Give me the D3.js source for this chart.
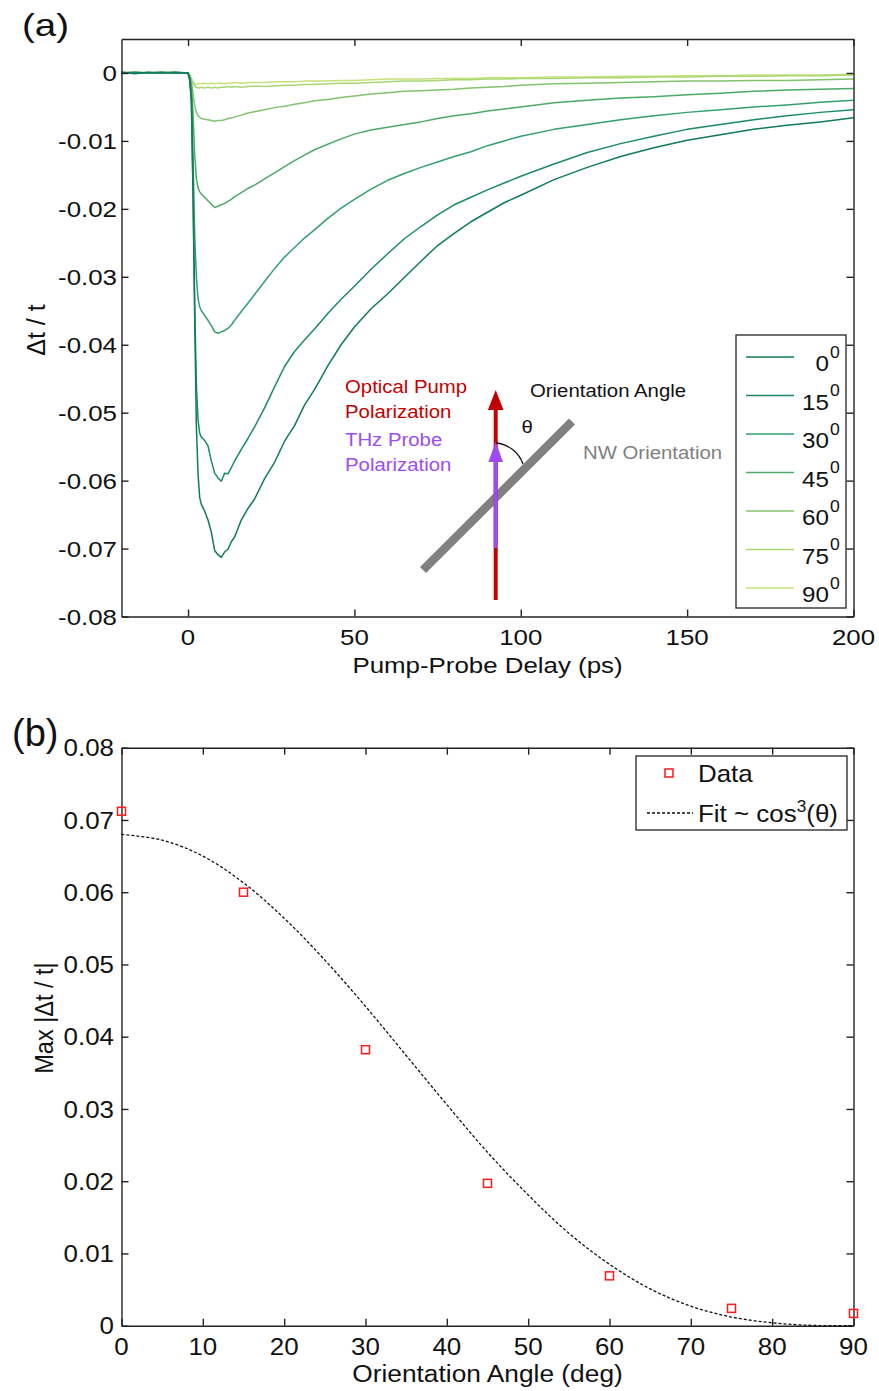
<!DOCTYPE html>
<html>
<head>
<meta charset="utf-8">
<script src="https://cdn.jsdelivr.net/npm/d3@7"></script>
<style>
  html, body { margin: 0; padding: 0; background: #fff; }
  svg { display: block; font-family: "Liberation Sans", Arial, sans-serif; }
</style>
</head>
<body>
<svg id="fig" width="879" height="1391"></svg>
<script>
// ---------- Panel (a): THz transients vs pump-probe delay ----------
const delays = [-20, -16, -12, -8, -4, 0,
  0.5, 1, 1.5, 2, 2.5, 3, 3.5, 4,
  5, 6, 7, 8, 9, 10, 11, 12, 13, 14,
  16, 18, 20, 23, 26, 29, 32, 35, 38, 42, 46, 50,
  55, 60, 65, 70, 75, 80, 85, 90, 95, 100,
  110, 120, 130, 140, 150, 160, 170, 180, 190, 200];

const angleLabels = ["0", "15", "30", "45", "60", "75", "90"];
const seriesColors = ["#0e7b5f", "#1a8a6a", "#339e6f", "#4caa66", "#82c36e", "#aad676", "#c6e07a"];

const dt0 = [0.0001, -0.0001, 0.0001, 0, 0.0001, 0,
  -0.001, -0.004, -0.018, -0.036, -0.052, -0.059, -0.0625, -0.0635,
  -0.0645, -0.0658, -0.0676, -0.0703, -0.0709, -0.0713, -0.0705, -0.0701, -0.0690, -0.0683,
  -0.0658, -0.0641, -0.0627, -0.0597, -0.0573, -0.0542, -0.0519, -0.0489, -0.0466, -0.0431, -0.0400, -0.0374,
  -0.0347, -0.0325, -0.0301, -0.0277, -0.0254, -0.0236, -0.0219, -0.0205, -0.0191, -0.0180,
  -0.0157, -0.0139, -0.0123, -0.0110, -0.0099, -0.0091, -0.0083, -0.0077, -0.0072, -0.0066];

const dt15 = [0, 0.0001, 0, 0.0001, 0, 0,
  -0.001, -0.004, -0.017, -0.034, -0.046, -0.051, -0.053, -0.0536,
  -0.0541, -0.0549, -0.0571, -0.0589, -0.0596, -0.0601, -0.0589, -0.0590, -0.0581, -0.0571,
  -0.0554, -0.0538, -0.0521, -0.0493, -0.0462, -0.0432, -0.0410, -0.0393, -0.0377, -0.0354, -0.0333, -0.0314,
  -0.0289, -0.0266, -0.0244, -0.0226, -0.0209, -0.0194, -0.0183, -0.0172, -0.0162, -0.0152,
  -0.0134, -0.0117, -0.0104, -0.0093, -0.0083, -0.0076, -0.0069, -0.0063, -0.0058, -0.0054];

const dt30 = [0.0001, 0, 0, 0.0001, 0, 0,
  -0.0008, -0.003, -0.012, -0.024, -0.030, -0.0332, -0.0344, -0.0350,
  -0.0357, -0.0364, -0.0372, -0.0381, -0.0383, -0.0381, -0.0379, -0.0376, -0.0371, -0.0364,
  -0.0351, -0.0339, -0.0326, -0.0307, -0.0288, -0.0271, -0.0257, -0.0243, -0.0231, -0.0214, -0.0199, -0.0186,
  -0.0171, -0.0158, -0.0148, -0.0139, -0.0131, -0.0123, -0.0116, -0.0107, -0.0100, -0.0093,
  -0.0083, -0.0076, -0.0069, -0.0063, -0.0058, -0.0054, -0.0050, -0.0047, -0.0043, -0.0040];

const dt45 = [0, 0.0001, 0, 0, 0.0001, 0,
  -0.0005, -0.002, -0.006, -0.012, -0.0155, -0.0169, -0.0175, -0.0178,
  -0.0183, -0.0188, -0.0193, -0.0198, -0.0196, -0.0194, -0.0192, -0.0189, -0.0186, -0.0182,
  -0.0176, -0.0170, -0.0165, -0.0156, -0.0147, -0.0138, -0.0129, -0.0121, -0.0113, -0.0105, -0.0097, -0.0090,
  -0.0084, -0.0080, -0.0076, -0.0072, -0.0067, -0.0063, -0.0060, -0.0056, -0.0053, -0.0050,
  -0.0044, -0.0040, -0.0037, -0.0035, -0.0032, -0.0030, -0.0027, -0.0025, -0.0024, -0.0023];

const dt60 = [0, 0, 0.0001, 0, 0, 0,
  -0.0004, -0.0012, -0.003, -0.0048, -0.0058, -0.0063, -0.0065, -0.0067,
  -0.0068, -0.0069, -0.0070, -0.0071, -0.0070, -0.0070, -0.0069, -0.0067, -0.0066, -0.0065,
  -0.0062, -0.0059, -0.0057, -0.0054, -0.0051, -0.0049, -0.0046, -0.0044, -0.0041, -0.0039, -0.0036, -0.0034,
  -0.0031, -0.0029, -0.0027, -0.0026, -0.0025, -0.0024, -0.0022, -0.0021, -0.0020, -0.0018,
  -0.0016, -0.0015, -0.0014, -0.0013, -0.0012, -0.0012, -0.0011, -0.0011, -0.0010, -0.0009];

const dt75 = [0.0001, 0, 0, 0.0001, 0, 0,
  -0.0003, -0.0009, -0.0015, -0.0019, -0.0021, -0.0022, -0.0022, -0.0021,
  -0.0022, -0.0021, -0.0022, -0.0021, -0.0022, -0.0021, -0.0021, -0.0020, -0.0021, -0.0020,
  -0.0021, -0.0020, -0.0019, -0.0020, -0.0019, -0.0018, -0.0018, -0.0017, -0.0017, -0.0016, -0.0015, -0.0015,
  -0.0014, -0.0013, -0.0012, -0.0012, -0.0011, -0.0010, -0.0010, -0.0009, -0.0009, -0.0008,
  -0.0008, -0.0007, -0.0007, -0.0006, -0.0006, -0.0005, -0.0005, -0.0004, -0.0004, -0.0003];

const dt90 = [0, 0.0001, 0, 0, 0.0001, 0,
  -0.0003, -0.0008, -0.0013, -0.0016, -0.0017, -0.0016, -0.0015, -0.0016,
  -0.0015, -0.0016, -0.0015, -0.0016, -0.0015, -0.0015, -0.0016, -0.0015, -0.0015, -0.0014,
  -0.0015, -0.0014, -0.0014, -0.0014, -0.0013, -0.0013, -0.0013, -0.0012, -0.0012, -0.0012, -0.0011, -0.0011,
  -0.0010, -0.0009, -0.0009, -0.0009, -0.0008, -0.0008, -0.0008, -0.0007, -0.0007, -0.0007,
  -0.0006, -0.0006, -0.0005, -0.0005, -0.0004, -0.0004, -0.0003, -0.0003, -0.0003, -0.0002];

const transients = [dt0, dt15, dt30, dt45, dt60, dt75, dt90];

const xTicksA = [0, 50, 100, 150, 200];
const yTicksA = [0, -0.01, -0.02, -0.03, -0.04, -0.05, -0.06, -0.07, -0.08];
const yTickLabelsA = ["0", "-0.01", "-0.02", "-0.03", "-0.04", "-0.05", "-0.06", "-0.07", "-0.08"];

// ---------- Panel (b): peak signal vs orientation angle ----------
const angles = [0, 15, 30, 45, 60, 75, 90];
const maxSignal = [0.0712, 0.0600, 0.0382, 0.0197, 0.0069, 0.0024, 0.0017];
const fitAngles = [0, 5, 10, 15, 20, 25, 30, 35, 40, 45, 50, 55, 60, 65, 70, 75, 80, 85, 90];
const fitValues = [0.0680, 0.0672, 0.0650, 0.0613, 0.0564, 0.0506, 0.0442, 0.0374, 0.0306, 0.0240,
  0.0181, 0.0128, 0.0085, 0.0051, 0.0027, 0.0012, 0.0004, 0.00004, 0];

const xTicksB = [0, 10, 20, 30, 40, 50, 60, 70, 80, 90];
const yTicksB = [0, 0.01, 0.02, 0.03, 0.04, 0.05, 0.06, 0.07, 0.08];
const yTickLabelsB = ["0", "0.01", "0.02", "0.03", "0.04", "0.05", "0.06", "0.07", "0.08"];

// ---------- helpers ----------
const svg = d3.select("#fig");
svg.append("rect").attr("width", 879).attr("height", 1391).attr("fill", "#fff");
const INK = "#232323";

function txt(parent, x, y, s, o = {}) {
  let tf = `translate(${x},${y})`;
  if (o.rot) tf += ` rotate(${o.rot})`;
  tf += ` scale(${o.sx || 1},${o.sy || 1})`;
  return parent.append("text")
    .attr("transform", tf)
    .attr("font-size", o.size || 22)
    .attr("text-anchor", o.anchor || "start")
    .attr("fill", o.fill || "#111")
    .text(s);
}

function frame(g, x, y, xt, yt) {
  const [x0, x1] = x.range();
  const [y0, y1] = y.range();
  const styleAxis = sel => {
    sel.selectAll("path").attr("stroke", INK).attr("stroke-width", 1.4);
    sel.selectAll("line").attr("stroke", INK).attr("stroke-width", 1.4);
    sel.selectAll("text").remove();
  };
  g.append("g").attr("transform", `translate(0,${y0})`)
    .call(d3.axisBottom(x).tickValues(xt).tickSize(-7).tickSizeOuter(0).tickFormat(() => "")).call(styleAxis);
  g.append("g").attr("transform", `translate(0,${y1})`)
    .call(d3.axisTop(x).tickValues(xt).tickSize(-7).tickSizeOuter(0).tickFormat(() => "")).call(styleAxis);
  g.append("g").attr("transform", `translate(${x0},0)`)
    .call(d3.axisLeft(y).tickValues(yt).tickSize(-7).tickSizeOuter(0).tickFormat(() => "")).call(styleAxis);
  g.append("g").attr("transform", `translate(${x1},0)`)
    .call(d3.axisRight(y).tickValues(yt).tickSize(-7).tickSizeOuter(0).tickFormat(() => "")).call(styleAxis);
}

// ================= Panel (a) =================
const xA = d3.scaleLinear([-20, 200], [121.5, 853.5]);
const yA = d3.scaleLinear([-0.08, 0.005], [616.5, 39]);
const gA = svg.append("g");

const lineA = d3.line().x((d, i) => xA(delays[i])).y(d => yA(d));
gA.append("g").selectAll("path")
  .data(transients.map((v, k) => ({ v, k })).reverse())
  .join("path")
  .attr("d", d => lineA(d.v))
  .attr("fill", "none")
  .attr("stroke", d => seriesColors[d.k])
  .attr("stroke-width", 1.5)
  .attr("stroke-linejoin", "round");

frame(gA, xA, yA, xTicksA, yTicksA);

const SA = { size: 22.5, sx: 1.15 };
yTicksA.forEach((v, i) => txt(gA, 117, yA(v) + 8, yTickLabelsA[i], { ...SA, anchor: "end" }));
xTicksA.forEach(v => txt(gA, xA(v), 645, String(v), { ...SA, anchor: "middle" }));
txt(gA, 487.5, 673, "Pump-Probe Delay (ps)", { ...SA, anchor: "middle" });
txt(gA, 45, 330, "\u0394t / t", { size: 25, rot: -90, sy: 1.05, anchor: "middle" });
txt(svg, 22, 36, "(a)", { size: 32, sx: 1.2 });

// orientation sketch
const sk = gA.append("g");
sk.append("line").attr("x1", 423).attr("y1", 570).attr("x2", 572).attr("y2", 421.5)
  .attr("stroke", "#808080").attr("stroke-width", 8.5);
const red = "#c40000", purple = "#9d4cf4";
sk.append("line").attr("x1", 495.7).attr("y1", 600).attr("x2", 495.7).attr("y2", 406)
  .attr("stroke", red).attr("stroke-width", 4);
sk.append("path").attr("d", "M495.7,390 L503.5,410 L487.9,410 Z").attr("fill", red);
sk.append("line").attr("x1", 495.7).attr("y1", 548).attr("x2", 495.7).attr("y2", 458)
  .attr("stroke", purple).attr("stroke-width", 4);
sk.append("path").attr("d", "M495.7,441.5 L503,462 L488.4,462 Z").attr("fill", purple);
sk.append("path").attr("d", "M496,443 A32,32 0 0 1 523,464")
  .attr("fill", "none").attr("stroke", "#111").attr("stroke-width", 1.3);
const SK = { size: 18.5, sx: 1.1 };
txt(sk, 345, 393, "Optical Pump", { ...SK, fill: red });
txt(sk, 345, 418, "Polarization", { ...SK, fill: red });
txt(sk, 345, 446, "THz Probe", { ...SK, fill: purple });
txt(sk, 345, 471, "Polarization", { ...SK, fill: purple });
txt(sk, 530, 397, "Orientation Angle", { ...SK, fill: "#111" });
txt(sk, 583, 459, "NW Orientation", { ...SK, fill: "#808080" });
txt(sk, 521.5, 433, "\u03b8", { ...SK, fill: "#111" });

// legend (a)
const lgA = gA.append("g");
lgA.append("rect").attr("x", 736).attr("y", 335).attr("width", 110).attr("height", 273)
  .attr("fill", "#fff").attr("stroke", INK).attr("stroke-width", 1.3);
angleLabels.forEach((lab, k) => {
  const ry = 357 + k * 38.5;
  lgA.append("line").attr("x1", 746).attr("x2", 794).attr("y1", ry).attr("y2", ry)
    .attr("stroke", seriesColors[k]).attr("stroke-width", 1.5);
  txt(lgA, 829, ry + 14, lab, { size: 22, sx: 1.1, anchor: "end" });
  txt(lgA, 830, ry + 0.5, "0", { size: 16, sx: 1.1 });
});

// ================= Panel (b) =================
const xB = d3.scaleLinear([0, 90], [121.5, 853.5]);
const yB = d3.scaleLinear([0, 0.08], [1325.7, 747.7]);
const gB = svg.append("g");

frame(gB, xB, yB, xTicksB, yTicksB);

const fitLine = d3.line().x((d, i) => xB(fitAngles[i])).y(d => yB(d)).curve(d3.curveCatmullRom);
gB.append("path").attr("d", fitLine(fitValues))
  .attr("fill", "none").attr("stroke", "#111").attr("stroke-width", 1.3)
  .attr("stroke-dasharray", "3,2");

gB.append("g").selectAll("rect")
  .data(maxSignal)
  .join("rect")
  .attr("x", (d, i) => xB(angles[i]) - 4)
  .attr("y", d => yB(d) - 4)
  .attr("width", 8).attr("height", 8)
  .attr("fill", "none").attr("stroke", "#ff1a1a").attr("stroke-width", 1.5);

const SB = { size: 24, sx: 1.08 };
yTicksB.forEach((v, i) => txt(gB, 114, yB(v) + 8.6, yTickLabelsB[i], { ...SB, anchor: "end" }));
xTicksB.forEach(v => txt(gB, xB(v), 1355, String(v), { ...SB, anchor: "middle" }));
txt(gB, 487.5, 1382, "Orientation Angle (deg)", { size: 23.5, sx: 1.12, anchor: "middle" });
txt(gB, 53, 1018, "Max |\u0394t / t|", { size: 23.5, rot: -90, sy: 1.12, anchor: "middle" });
txt(svg, 12, 746, "(b)", { size: 38 });

// legend (b)
const lgB = gB.append("g");
lgB.append("rect").attr("x", 636).attr("y", 756).attr("width", 211).attr("height", 74)
  .attr("fill", "#fff").attr("stroke", INK).attr("stroke-width", 1.3);
lgB.append("rect").attr("x", 665).attr("y", 769).attr("width", 8).attr("height", 8)
  .attr("fill", "none").attr("stroke", "#ff1a1a").attr("stroke-width", 1.5);
txt(lgB, 698, 782, "Data", { size: 24, sx: 1.08 });
lgB.append("line").attr("x1", 647).attr("x2", 693).attr("y1", 813).attr("y2", 813)
  .attr("stroke", "#111").attr("stroke-width", 1.3).attr("stroke-dasharray", "3,2");
const fitText = lgB.append("text")
  .attr("transform", "translate(698,822) scale(1.08,1)")
  .attr("font-size", 24).attr("fill", "#111");
fitText.append("tspan").text("Fit ~ cos");
fitText.append("tspan").attr("font-size", 16).attr("dy", -10).text("3");
fitText.append("tspan").attr("dy", 10).text("(\u03b8)");
</script>
</body>
</html>
